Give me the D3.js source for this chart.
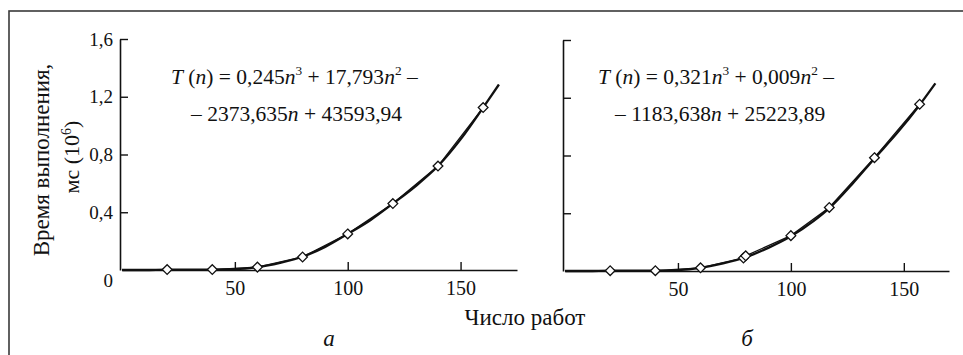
<!DOCTYPE html>
<html><head><meta charset="utf-8">
<script src="https://cdn.jsdelivr.net/npm/d3@7/dist/d3.min.js"></script>
<style>
html,body{margin:0;padding:0;background:#fff;}
svg{display:block;}
svg text{font-family:"Liberation Serif","DejaVu Serif","Times New Roman",serif;}
</style>
</head><body>
<script>
// ---- data ----
const yTicks = [0, 0.4, 0.8, 1.2, 1.6];
const yTickLabels = ["0", "0,4", "0,8", "1,2", "1,6"];
const xTicks = [50, 100, 150];
const xTickLabels = ["50", "100", "150"];

// panel a: measured points
const aN = [20, 40, 60, 80, 100, 120, 140, 160];
const aT = [0.003, 0.003, 0.02, 0.09, 0.25, 0.46, 0.72, 1.125];
// panel a: fitted curve
const aFitN = [0, 10, 20, 30, 40, 50, 60, 70, 80, 90, 100, 110, 120, 130, 140, 150, 160, 167];
const aFitT = [0, 0, 0.003, 0.003, 0.003, 0.006, 0.02, 0.05, 0.092, 0.16, 0.25, 0.345, 0.46, 0.58, 0.72, 0.905, 1.125, 1.285];

// panel б: measured points
const bN = [20, 40, 60, 79, 80, 100, 117, 137, 157];
const bT = [0.002, 0.002, 0.022, 0.09, 0.105, 0.245, 0.44, 0.785, 1.155];
// panel б: fitted curve
const bFitN = [0, 10, 20, 30, 40, 50, 60, 70, 80, 90, 100, 110, 117, 127, 137, 147, 157, 164];
const bFitT = [0, 0, 0.003, 0.002, 0.002, 0.006, 0.022, 0.052, 0.095, 0.16, 0.24, 0.345, 0.435, 0.6, 0.78, 0.955, 1.15, 1.3];

const eqA1 = [["T", 1], [" (", 0], ["n", 1], [") = 0,245", 0], ["n", 1], ["3", 2], [" + 17,793", 0], ["n", 1], ["2", 2], [" –", 0]];
const eqA2 = [["– 2373,635", 0], ["n", 1], [" + 43593,94", 0]];
const eqB1 = [["T", 1], [" (", 0], ["n", 1], [") = 0,321", 0], ["n", 1], ["3", 2], [" + 0,009", 0], ["n", 1], ["2", 2], [" –", 0]];
const eqB2 = [["– 1183,638", 0], ["n", 1], [" + 25223,89", 0]];

const yLabel1 = "Время выполнения,";
const yLabel2 = ["мс (10", "6", ")"];
const xLabel = "Число работ";
const panelLabels = ["а", "б"];

// ---- drawing ----
const W = 963, H = 355;
const FONT = '"Liberation Serif","DejaVu Serif","Times New Roman",serif';
const INK = "#111";
const svg = d3.select("body").append("svg").attr("width", W).attr("height", H);

svg.append("rect").attr("x", 9).attr("y", 11).attr("width", 970).attr("height", 370)
  .attr("fill", "none").attr("stroke", "#3a3a3a").attr("stroke-width", 1.6);

const panels = [
  {x0: 122, x1: 517, xmax: 175, y0: 270, y1: 39, N: aN, T: aT, fN: aFitN, fT: aFitT, eq1: eqA1, eq2: eqA2, ex: 171, ex2: 191, lx: 329, labels: true},
  {x0: 565, x1: 949, xmax: 170, y0: 271, y1: 40, N: bN, T: bT, fN: bFitN, fT: bFitT, eq1: eqB1, eq2: eqB2, ex: 598, ex2: 615, lx: 747, labels: false}
];

function writeEq(sel, segs, x, y, size) {
  const t = sel.append("text").attr("x", x).attr("y", y).attr("font-size", size)
    .attr("font-family", FONT).attr("fill", INK);
  let up = false;
  segs.forEach(([s, k]) => {
    const ts = t.append("tspan").text(s);
    if (k === 1) ts.attr("font-style", "italic");
    if (k === 2) { ts.attr("font-size", size * 0.62).attr("dy", -size * 0.42); up = true; }
    else if (up) { ts.attr("dy", size * 0.42); up = false; }
  });
  return t;
}

panels.forEach((p, pi) => {
  const x = d3.scaleLinear().domain([0, p.xmax]).range([p.x0, p.x1]);
  const y = d3.scaleLinear().domain([0, 1.6]).range([p.y0, p.y1]);
  const g = svg.append("g");

  // x axis
  const xa = g.append("g").attr("transform", `translate(0,${p.y0})`)
    .call(d3.axisBottom(x).tickValues(xTicks).tickSizeInner(-8).tickSizeOuter(0)
      .tickFormat((d, i) => xTickLabels[i]).tickPadding(11));
  xa.attr("font-family", FONT);
  xa.select(".domain").attr("stroke", INK).attr("stroke-width", 1.6);
  xa.selectAll(".tick line").attr("stroke", INK).attr("stroke-width", 1.4);
  xa.selectAll(".tick text").attr("font-size", 20).attr("font-family", FONT).attr("fill", INK);

  // y axis
  const ya = g.append("g").attr("transform", `translate(${p.x0 - 2},0)`)
    .call(d3.axisLeft(y).tickValues(yTicks).tickSizeInner(-8).tickSizeOuter(0)
      .tickFormat((d, i) => p.labels ? yTickLabels[i] : "").tickPadding(7));
  ya.attr("font-family", FONT);
  ya.select(".domain").attr("stroke", INK).attr("stroke-width", 1.6);
  ya.selectAll(".tick line").attr("stroke", INK).attr("stroke-width", 1.4);
  ya.selectAll(".tick text").attr("font-size", 19).attr("font-family", FONT).attr("fill", INK)
    .attr("dy", d => d === 0 ? "0.85em" : "0.32em");
  ya.selectAll(".tick").filter(d => d === 0).select("line").remove();

  // fitted curve
  const fit = p.fN.map((n, i) => [n, p.fT[i]]);
  g.append("path").datum(fit)
    .attr("d", d3.line().x(d => x(d[0])).y(d => y(d[1])).curve(d3.curveMonotoneX))
    .attr("fill", "none").attr("stroke", INK).attr("stroke-width", 2.3);

  // measured polyline
  const pts = p.N.map((n, i) => [n, p.T[i]]);
  g.append("path").datum(pts)
    .attr("d", d3.line().x(d => x(d[0])).y(d => y(d[1])))
    .attr("fill", "none").attr("stroke", INK).attr("stroke-width", 1.3);

  // markers
  const sym = d3.symbol().type(d3.symbolDiamond2).size(60);
  g.selectAll("path.m").data(pts).join("path").attr("class", "m")
    .attr("transform", d => `translate(${x(d[0])},${y(d[1])})`)
    .attr("d", sym).attr("fill", "#fff").attr("stroke", INK).attr("stroke-width", 1.3);

  // equations
  writeEq(g, p.eq1, p.ex, 84, 21.5);
  writeEq(g, p.eq2, p.ex2, 121, 21.5);

  // panel letter
  g.append("text").attr("x", p.lx).attr("y", 346).attr("text-anchor", "middle")
    .attr("font-family", FONT).attr("font-size", 23).attr("font-style", "italic").attr("fill", INK).text(panelLabels[pi]);
});

// axis titles
svg.append("text").attr("x", 525).attr("y", 325).attr("text-anchor", "middle")
  .attr("font-family", FONT).attr("font-size", 23).attr("fill", INK).text(xLabel);

svg.append("text").attr("transform", "translate(49,160) rotate(-90)").attr("text-anchor", "middle")
  .attr("font-family", FONT).attr("font-size", 23).attr("fill", INK).text(yLabel1);
const yl2 = svg.append("text").attr("transform", "translate(79,157) rotate(-90)").attr("text-anchor", "middle")
  .attr("font-family", FONT).attr("font-size", 22).attr("fill", INK);
yl2.append("tspan").text(yLabel2[0]);
yl2.append("tspan").text(yLabel2[1]).attr("font-size", 14).attr("dy", -8);
yl2.append("tspan").text(yLabel2[2]).attr("dy", 8);
</script>
</body></html>
